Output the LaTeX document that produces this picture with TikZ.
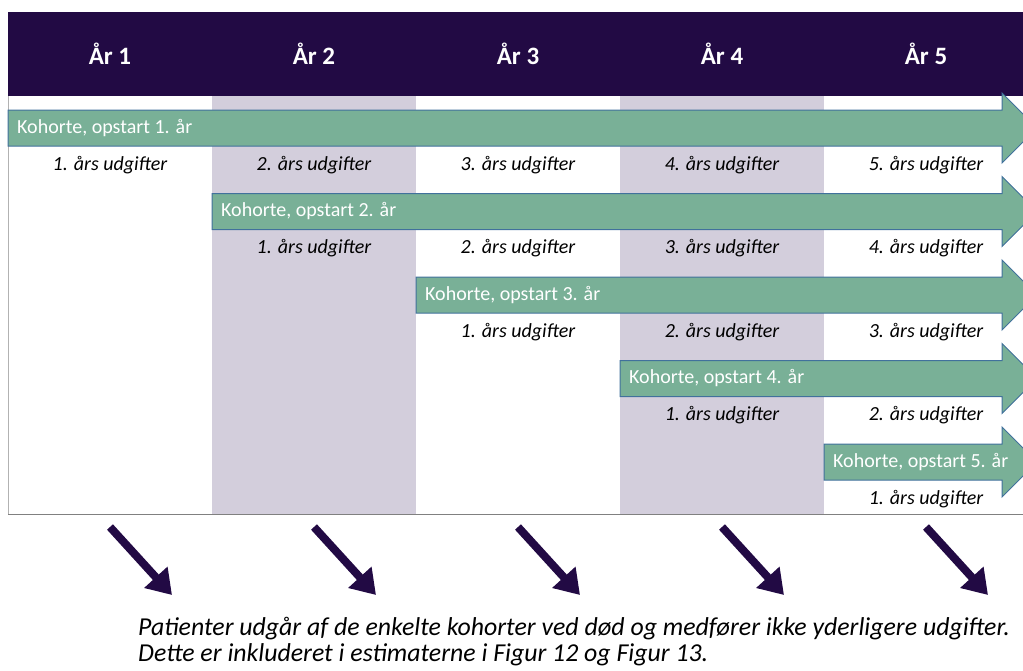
\documentclass[tikz,border=0pt]{standalone}
\usepackage{fontspec}
\setmainfont{Carlito}
\usetikzlibrary{arrows.meta}

\definecolor{headerbg}{HTML}{220A44}
\definecolor{shadecol}{HTML}{D3CEDC}
\definecolor{cohortfill}{HTML}{79B097}
\definecolor{cohortline}{HTML}{41719C}

\begin{document}
\begin{tikzpicture}[
x=1pt,y=-1pt,
year/.style={text=white,font=\fontsize{25}{30}\selectfont\bfseries},
cost/.style={font=\fontsize{20}{24}\selectfont\itshape},
cohort/.style={fill=cohortfill,draw=cohortline,line width=1pt},
cohortlabel/.style={text=white,font=\fontsize{20}{24}\selectfont,anchor=west,inner sep=3pt},
exit/.style={draw=headerbg,line width=8pt,-{Triangle[length=24pt,width=30pt]}},
note/.style={font=\fontsize{25.8}{26}\selectfont\itshape,align=left,anchor=base west,inner sep=0pt}
]

\useasboundingbox (0,0) rectangle (1023,670);
\clip (0,0) rectangle (1023,670);

% Set number of years
\def\years{5}
\def\colwidth{204}
\def\rowheight{83.5}

% Shaded columns and frame
\fill [shadecol] (212,96) rectangle (416,514);
\fill [shadecol] (620,96) rectangle (824,514);
\draw [gray!60] (8,96) -- (8,514);
\draw [gray] (8,514) -- (1030,514);

% Header bar
\fill [headerbg] (8,12) rectangle (1030,96);
\foreach \x in {1,...,\years}{
  \node [year] (y\x) at ({110+\colwidth*(\x-1)},54) {År \x};
}

% Draw cohort arrows
\foreach \k in {1,...,\years}{
  \pgfmathsetmacro\ym{128+\rowheight*(\k-1)}
  \pgfmathsetmacro\xs{8+\colwidth*(\k-1)}
  \draw [cohort] (\xs,\ym-18) -- (1002,\ym-18) -- (1002,\ym-35) -- (1037,\ym)
    -- (1002,\ym+35) -- (1002,\ym+18) -- (\xs,\ym+18) -- cycle;
  \node [cohortlabel] (c\k) at (\xs+6,\ym) {Kohorte, opstart \k. år};
}

% Draw yearly costs
\foreach \k in {1,...,\years}{
  \foreach \x in {\k,...,\years}{
    \pgfmathtruncatemacro\n{int(\x-\k+1)}
    \node [cost] (u\k\x) at ({110+\colwidth*(\x-1)},{165+\rowheight*(\k-1)}) {\n. års udgifter};
  }
}

% Draw exit arrows
\foreach \x in {1,...,\years}{
  \coordinate (a\x) at ({110+\colwidth*(\x-1)},527);
  \coordinate (b\x) at ({172+\colwidth*(\x-1)},595);
  \draw [exit] (a\x) -- (b\x);
}

\node [note] (n) at (138,661) {Patienter udgår af de enkelte kohorter ved død og medfører ikke yderligere udgifter.\\Dette er inkluderet i estimaterne i Figur 12 og Figur 13.};
\end{tikzpicture}
\end{document}
